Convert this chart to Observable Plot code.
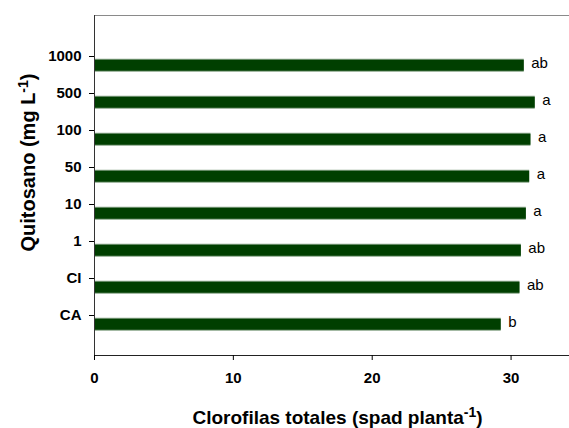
<!DOCTYPE html>
<html>
<head>
<meta charset="utf-8">
<script src="https://cdn.jsdelivr.net/npm/d3@7"></script>
<script src="https://cdn.jsdelivr.net/npm/@observablehq/plot@0.6"></script>
<style>
  html, body { margin: 0; padding: 0; background: #fff; overflow: hidden; }
  #chart { width: 569px; height: 428px; overflow: hidden; }
  #chart svg { max-width: none !important; }
</style>
</head>
<body>
<div id="chart"></div>
<script>
const categories = ["1000", "500", "100", "50", "10", "1", "CI", "CA"];
const values = [30.95, 31.74, 31.43, 31.34, 31.10, 30.74, 30.64, 29.29];
const letters = ["ab", "a", "a", "a", "a", "ab", "ab", "b"];
const xTicks = [0, 10, 20, 30];
const xTitleParts = ["Clorofilas totales (spad planta", "-1", ")"];
const yTitleParts = ["Quitosano (mg L", "-1", ")"];

const data = categories.map((c, i) => ({cat: c, value: values[i], letter: letters[i]}));
const xTitle = xTitleParts.join("");
const yTitle = yTitleParts.join("");
const font = "'Liberation Sans', Arial, Helvetica, sans-serif";

const chart = Plot.plot({
  width: 581,
  height: 428,
  marginLeft: 94,
  marginRight: 1,
  marginTop: 15,
  marginBottom: 73,
  style: {fontFamily: font, background: "#fff", color: "#000", maxWidth: "none"},
  x: {domain: [0, 35], axis: null},
  y: {type: "point", domain: categories, padding: 1, axis: null},
  marks: [
    Plot.frame({stroke: "#8a8a8a"}),
    Plot.ruleY(data, {y: "cat", x1: 0, x2: "value", stroke: "#86a386", strokeWidth: 13, dy: 8.8}),
    Plot.ruleY(data, {y: "cat", x1: 0, x2: "value", stroke: "#003f00", strokeWidth: 11, dy: 8.8}),
    Plot.ruleX([0], {stroke: "#333"}),
    Plot.frame({anchor: "bottom", stroke: "#222"}),
    Plot.axisX({ticks: xTicks, tickSize: 5, tickPadding: 12.3, fontSize: 15, fontWeight: "bold", label: null, color: "#000"}),
    Plot.axisY({tickSize: 5, tickPadding: 8, fontSize: 15, fontWeight: "bold", label: null, color: "#000"}),
    Plot.text(data, {x: "value", y: "cat", text: "letter", textAnchor: "start", lineAnchor: "middle", dx: 7, dy: 6.2, fontSize: 15, fill: "#000"}),
    Plot.text([xTitle], {frameAnchor: "bottom", textAnchor: "middle", lineAnchor: "middle", dy: 62.5, fontSize: 19, fontWeight: "bold", fill: "#000"}),
    Plot.text([yTitle], {frameAnchor: "left", textAnchor: "middle", lineAnchor: "middle", rotate: -90, dx: -66, dy: -23, fontSize: 20, fontWeight: "bold", fill: "#000"})
  ]
});
chart.style.maxWidth = "none";
chart.setAttribute("width", 581);
chart.setAttribute("height", 428);

// superscripts in axis titles
function supify(svg, parts) {
  const full = parts.join("");
  svg.querySelectorAll("text").forEach(t => {
    if (t.textContent === full) {
      while (t.firstChild) t.removeChild(t.firstChild);
      const ns = "http://www.w3.org/2000/svg";
      const a = document.createElementNS(ns, "tspan");
      a.textContent = parts[0];
      const b = document.createElementNS(ns, "tspan");
      b.textContent = parts[1];
      b.setAttribute("font-size", "14");
      b.setAttribute("dy", "-7");
      const c = document.createElementNS(ns, "tspan");
      c.textContent = parts[2];
      c.setAttribute("dy", "7");
      t.appendChild(a); t.appendChild(b); t.appendChild(c);
    }
  });
}
supify(chart, xTitleParts);
supify(chart, yTitleParts);

document.getElementById("chart").appendChild(chart);
</script>
</body>
</html>
